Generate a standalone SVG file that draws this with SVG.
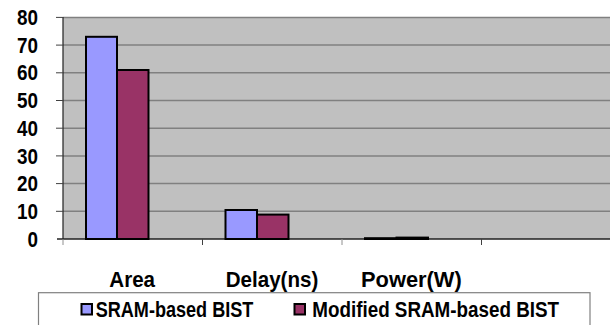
<svg xmlns="http://www.w3.org/2000/svg" width="610" height="325" viewBox="0 0 610 325">
<style>
.t{font-family:"Liberation Sans",Arial,sans-serif;font-weight:bold;font-size:22px;fill:#000}
.y{text-anchor:end}
.grid{stroke:#808080;stroke-width:1.5}
.tick{stroke:#404040;stroke-width:1}
.s1{fill:#9999FF;stroke:#000;stroke-width:2}
.s2{fill:#993366;stroke:#000;stroke-width:2}
</style>
<rect width="610" height="325" fill="#fff"/>
<g id="plot">
<rect x="63" y="17.4" width="547" height="221.6" fill="#C0C0C0"/>
<line class="grid" x1="63" y1="17.4" x2="610" y2="17.4" stroke-width="2"/>
<line class="grid" x1="63" y1="45.1" x2="610" y2="45.1"/>
<line class="grid" x1="63" y1="72.8" x2="610" y2="72.8"/>
<line class="grid" x1="63" y1="100.5" x2="610" y2="100.5"/>
<line class="grid" x1="63" y1="128.2" x2="610" y2="128.2"/>
<line class="grid" x1="63" y1="155.9" x2="610" y2="155.9"/>
<line class="grid" x1="63" y1="183.6" x2="610" y2="183.6"/>
<line class="grid" x1="63" y1="211.3" x2="610" y2="211.3"/>
</g>
<g id="axes">
<line x1="63" y1="17" x2="63" y2="239.5" stroke="#202020" stroke-width="1.2"/>
<line x1="57" y1="239" x2="610" y2="239" stroke="#202020" stroke-width="1.5"/>
<g class="tick">
<line x1="56" y1="17.4" x2="63" y2="17.4"/>
<line x1="56" y1="45.1" x2="63" y2="45.1"/>
<line x1="56" y1="72.8" x2="63" y2="72.8"/>
<line x1="56" y1="100.5" x2="63" y2="100.5"/>
<line x1="56" y1="128.2" x2="63" y2="128.2"/>
<line x1="56" y1="155.9" x2="63" y2="155.9"/>
<line x1="56" y1="183.6" x2="63" y2="183.6"/>
<line x1="56" y1="211.3" x2="63" y2="211.3"/>
<line x1="63" y1="239" x2="63" y2="245" stroke="#909090"/>
<line x1="202.5" y1="239" x2="202.5" y2="245"/>
<line x1="342" y1="239" x2="342" y2="245" stroke="#909090"/>
<line x1="481.5" y1="239" x2="481.5" y2="245"/>
</g>
<text class="t y" x="38" y="25" textLength="21" lengthAdjust="spacingAndGlyphs">80</text>
<text class="t y" x="38" y="52.7" textLength="21" lengthAdjust="spacingAndGlyphs">70</text>
<text class="t y" x="38" y="80.4" textLength="21" lengthAdjust="spacingAndGlyphs">60</text>
<text class="t y" x="38" y="108.1" textLength="21" lengthAdjust="spacingAndGlyphs">50</text>
<text class="t y" x="38" y="135.8" textLength="21" lengthAdjust="spacingAndGlyphs">40</text>
<text class="t y" x="38" y="163.5" textLength="21" lengthAdjust="spacingAndGlyphs">30</text>
<text class="t y" x="38" y="191.2" textLength="21" lengthAdjust="spacingAndGlyphs">20</text>
<text class="t y" x="38" y="218.9" textLength="21" lengthAdjust="spacingAndGlyphs">10</text>
<text class="t y" x="38" y="246.6" textLength="10.5" lengthAdjust="spacingAndGlyphs">0</text>
<text class="t" x="109.3" y="286.7" textLength="45.7" lengthAdjust="spacingAndGlyphs">Area</text>
<text class="t" x="225.7" y="286.7" textLength="92.6" lengthAdjust="spacingAndGlyphs">Delay(ns)</text>
<text class="t" x="361" y="286.7" textLength="100.7" lengthAdjust="spacingAndGlyphs">Power(W)</text>
</g>
<g id="bars">
<rect class="s1" x="86" y="36.8" width="31" height="202.2"/>
<rect class="s2" x="117" y="70" width="31.5" height="169"/>
<rect class="s1" x="225.5" y="210" width="31.5" height="29"/>
<rect class="s2" x="257" y="214.6" width="31.5" height="24.4"/>
<rect class="s1" x="365" y="238.2" width="31.5" height="0.8"/>
<rect class="s2" x="396.5" y="237.6" width="31.5" height="1.4"/>
</g>
<g id="legend">
<rect x="38.5" y="292.7" width="551.5" height="40" fill="#fff" stroke="#808080" stroke-width="1.2"/>
<rect class="s1" x="81.5" y="304" width="10.5" height="10.5" stroke-width="1.6"/>
<text class="t" x="95.7" y="316.7" textLength="157.6" lengthAdjust="spacingAndGlyphs">SRAM-based BIST</text>
<rect class="s2" x="294.5" y="304" width="10.5" height="10.5" stroke-width="1.6"/>
<text class="t" x="312.3" y="316.7" textLength="246.7" lengthAdjust="spacingAndGlyphs">Modified SRAM-based BIST</text>
</g>
</svg>
